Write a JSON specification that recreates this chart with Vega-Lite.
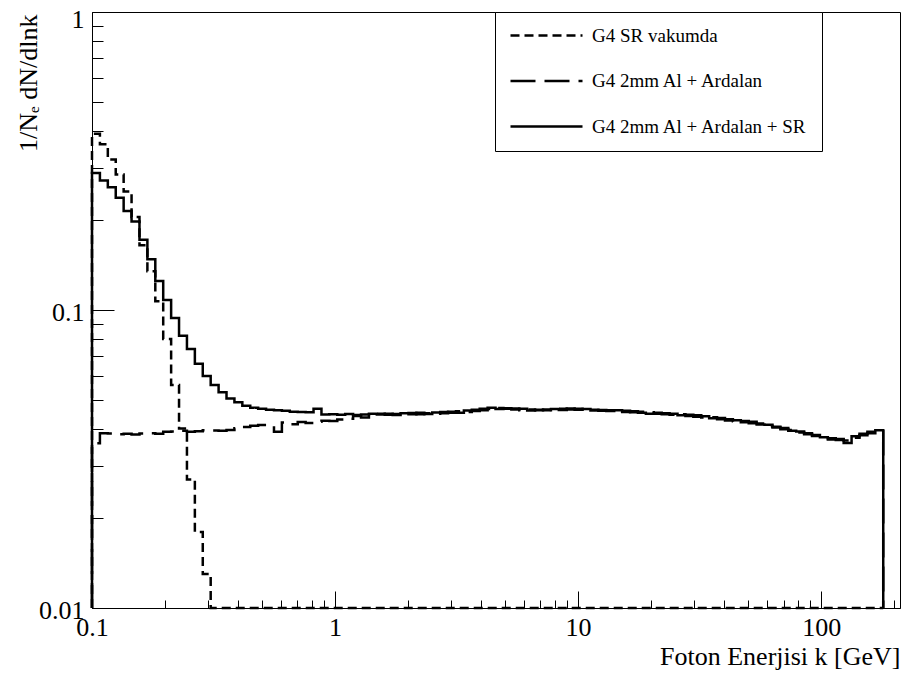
{
 "$schema": "https://vega.github.io/schema/vega-lite/v6.json",
 "width": 808,
 "height": 596,
 "autosize": {"type": "none"},
 "padding": {"left": 92, "top": 12, "right": 8, "bottom": 67},
 "background": "white",
 "config": {
  "font": "Liberation Serif",
  "view": {"stroke": "black", "strokeWidth": 1},
  "axis": {"domainColor": "black", "tickColor": "black", "labelColor": "black", "titleColor": "black", "labelFont": "Liberation Serif", "titleFont": "Liberation Serif", "labelFontSize": 26, "titleFontSize": 26, "titleFontWeight": "normal", "grid": false, "labelFlush": false, "labelOverlap": false, "labelBound": false, "tickWidth": 1, "domainWidth": 1}
 },
 "data": {"values": [
  {"o":0,"k":0.1,"V":0.01,"A":0.01,"S":0.01},
  {"o":1,"k":0.1,"V":0.39,"A":0.0357,"S":0.288},
  {"o":2,"k":0.10778,"V":0.36,"A":0.0386,"S":0.272},
  {"o":3,"k":0.11617,"V":0.32,"A":0.0385,"S":0.258},
  {"o":4,"k":0.12522,"V":0.285,"A":0.0383,"S":0.238},
  {"o":5,"k":0.13496,"V":0.25,"A":0.0384,"S":0.215},
  {"o":6,"k":0.14547,"V":0.205,"A":0.0382,"S":0.198},
  {"o":7,"k":0.15679,"V":0.165,"A":0.0385,"S":0.172},
  {"o":8,"k":0.169,"V":0.135,"A":0.0386,"S":0.148},
  {"o":9,"k":0.18215,"V":0.107,"A":0.0384,"S":0.125},
  {"o":10,"k":0.19633,"V":0.08,"A":0.039,"S":0.108},
  {"o":11,"k":0.21161,"V":0.056,"A":0.0391,"S":0.094},
  {"o":12,"k":0.22808,"V":0.04,"A":0.0393,"S":0.082},
  {"o":13,"k":0.24583,"V":0.027,"A":0.039,"S":0.074},
  {"o":14,"k":0.26497,"V":0.018,"A":0.0392,"S":0.066},
  {"o":15,"k":0.28559,"V":0.013,"A":0.0395,"S":0.06},
  {"o":16,"k":0.30782,"V":0.01,"A":0.0394,"S":0.056},
  {"o":17,"k":0.33178,"V":0.01,"A":0.0393,"S":0.053},
  {"o":18,"k":0.35761,"V":0.01,"A":0.0396,"S":0.0505},
  {"o":19,"k":0.38544,"V":0.01,"A":0.0401,"S":0.049},
  {"o":20,"k":0.41544,"V":0.01,"A":0.0405,"S":0.0477},
  {"o":21,"k":0.44778,"V":0.01,"A":0.0409,"S":0.047},
  {"o":22,"k":0.48263,"V":0.01,"A":0.0411,"S":0.0466},
  {"o":23,"k":0.52019,"V":0.01,"A":0.0408,"S":0.0463},
  {"o":24,"k":0.56068,"V":0.01,"A":0.039,"S":0.0461},
  {"o":25,"k":0.60432,"V":0.01,"A":0.0419,"S":0.0459},
  {"o":26,"k":0.65136,"V":0.01,"A":0.0414,"S":0.0456},
  {"o":27,"k":0.70206,"V":0.01,"A":0.0421,"S":0.0455},
  {"o":28,"k":0.75671,"V":0.01,"A":0.0418,"S":0.0454},
  {"o":29,"k":0.81561,"V":0.01,"A":0.0422,"S":0.0466},
  {"o":30,"k":0.8791,"V":0.01,"A":0.0425,"S":0.0446},
  {"o":31,"k":0.94752,"V":0.01,"A":0.0424,"S":0.0447},
  {"o":32,"k":1.0213,"V":0.01,"A":0.0429,"S":0.0445},
  {"o":33,"k":1.1008,"V":0.01,"A":0.0432,"S":0.0448},
  {"o":34,"k":1.1864,"V":0.01,"A":0.0441,"S":0.0444},
  {"o":35,"k":1.2788,"V":0.01,"A":0.0436,"S":0.0446},
  {"o":36,"k":1.3783,"V":0.01,"A":0.0446,"S":0.0449},
  {"o":37,"k":1.4856,"V":0.01,"A":0.0449,"S":0.0446},
  {"o":38,"k":1.6013,"V":0.01,"A":0.0445,"S":0.0449},
  {"o":39,"k":1.7259,"V":0.01,"A":0.0448,"S":0.0444},
  {"o":40,"k":1.8602,"V":0.01,"A":0.0446,"S":0.045},
  {"o":41,"k":2.005,"V":0.01,"A":0.0451,"S":0.0447},
  {"o":42,"k":2.1611,"V":0.01,"A":0.0447,"S":0.0452},
  {"o":43,"k":2.3293,"V":0.01,"A":0.045,"S":0.0448},
  {"o":44,"k":2.5106,"V":0.01,"A":0.0449,"S":0.0453},
  {"o":45,"k":2.706,"V":0.01,"A":0.0455,"S":0.045},
  {"o":46,"k":2.9167,"V":0.01,"A":0.0452,"S":0.0456},
  {"o":47,"k":3.1437,"V":0.01,"A":0.0457,"S":0.0452},
  {"o":48,"k":3.3884,"V":0.01,"A":0.0455,"S":0.046},
  {"o":49,"k":3.6522,"V":0.01,"A":0.0458,"S":0.0463},
  {"o":50,"k":3.9365,"V":0.01,"A":0.0466,"S":0.0461},
  {"o":51,"k":4.2428,"V":0.01,"A":0.0465,"S":0.047},
  {"o":52,"k":4.573,"V":0.01,"A":0.0469,"S":0.0465},
  {"o":53,"k":4.929,"V":0.01,"A":0.0466,"S":0.0468},
  {"o":54,"k":5.3126,"V":0.01,"A":0.0467,"S":0.0464},
  {"o":55,"k":5.7262,"V":0.01,"A":0.0461,"S":0.0466},
  {"o":56,"k":6.1719,"V":0.01,"A":0.0464,"S":0.046},
  {"o":57,"k":6.6523,"V":0.01,"A":0.0461,"S":0.0463},
  {"o":58,"k":7.1701,"V":0.01,"A":0.0464,"S":0.0461},
  {"o":59,"k":7.7282,"V":0.01,"A":0.0462,"S":0.0465},
  {"o":60,"k":8.3298,"V":0.01,"A":0.0466,"S":0.0462},
  {"o":61,"k":8.978,"V":0.01,"A":0.0464,"S":0.0467},
  {"o":62,"k":9.6768,"V":0.01,"A":0.0466,"S":0.0463},
  {"o":63,"k":10.43,"V":0.01,"A":0.0462,"S":0.0465},
  {"o":64,"k":11.242,"V":0.01,"A":0.0463,"S":0.046},
  {"o":65,"k":12.117,"V":0.01,"A":0.0459,"S":0.0462},
  {"o":66,"k":13.06,"V":0.01,"A":0.0461,"S":0.0458},
  {"o":67,"k":14.077,"V":0.01,"A":0.0457,"S":0.0461},
  {"o":68,"k":15.173,"V":0.01,"A":0.0459,"S":0.0455},
  {"o":69,"k":16.353,"V":0.01,"A":0.0454,"S":0.0457},
  {"o":70,"k":17.626,"V":0.01,"A":0.0456,"S":0.0452},
  {"o":71,"k":18.998,"V":0.01,"A":0.0454,"S":0.0449},
  {"o":72,"k":20.477,"V":0.01,"A":0.0449,"S":0.0452},
  {"o":73,"k":22.071,"V":0.01,"A":0.045,"S":0.0447},
  {"o":74,"k":23.789,"V":0.01,"A":0.0445,"S":0.0449},
  {"o":75,"k":25.64,"V":0.01,"A":0.0447,"S":0.0443},
  {"o":76,"k":27.636,"V":0.01,"A":0.0441,"S":0.0445},
  {"o":77,"k":29.788,"V":0.01,"A":0.0443,"S":0.0438},
  {"o":78,"k":32.106,"V":0.01,"A":0.0436,"S":0.044},
  {"o":79,"k":34.605,"V":0.01,"A":0.0437,"S":0.0433},
  {"o":80,"k":37.299,"V":0.01,"A":0.043,"S":0.0434},
  {"o":81,"k":40.201,"V":0.01,"A":0.043,"S":0.0426},
  {"o":82,"k":43.331,"V":0.01,"A":0.0423,"S":0.0427},
  {"o":83,"k":46.703,"V":0.01,"A":0.0424,"S":0.042},
  {"o":84,"k":50.339,"V":0.01,"A":0.0417,"S":0.0422},
  {"o":85,"k":54.257,"V":0.01,"A":0.0416,"S":0.0413},
  {"o":86,"k":58.48,"V":0.01,"A":0.0408,"S":0.0412},
  {"o":87,"k":63.032,"V":0.01,"A":0.0406,"S":0.0403},
  {"o":88,"k":67.94,"V":0.01,"A":0.0398,"S":0.0402},
  {"o":89,"k":73.227,"V":0.01,"A":0.0396,"S":0.0393},
  {"o":90,"k":78.927,"V":0.01,"A":0.0388,"S":0.0391},
  {"o":91,"k":85.069,"V":0.01,"A":0.0386,"S":0.0383},
  {"o":92,"k":91.691,"V":0.01,"A":0.0378,"S":0.0381},
  {"o":93,"k":98.828,"V":0.01,"A":0.0377,"S":0.0374},
  {"o":94,"k":106.52,"V":0.01,"A":0.0368,"S":0.0371},
  {"o":95,"k":114.81,"V":0.01,"A":0.0369,"S":0.0366},
  {"o":96,"k":123.75,"V":0.01,"A":0.0365,"S":0.0358},
  {"o":97,"k":133.38,"V":0.01,"A":0.0373,"S":0.0377},
  {"o":98,"k":143.76,"V":0.01,"A":0.0384,"S":0.038},
  {"o":99,"k":154.95,"V":0.01,"A":0.0386,"S":0.039},
  {"o":100,"k":167.01,"V":0.01,"A":0.0392,"S":0.0395},
  {"o":101,"k":180,"V":0.01,"A":0.01,"S":0.01}
 ]},
 "transform": [{"fold": ["V", "A", "S"], "as": ["s", "v"]}],
 "mark": {"type": "line", "interpolate": "step-after", "strokeWidth": 2.5, "color": "black", "strokeCap": "butt"},
 "encoding": {
  "x": {
   "field": "k", "type": "quantitative",
   "scale": {"type": "log", "domain": [0.1, 211], "nice": false},
   "axis": {
    "title": "Foton Enerjisi k [GeV]",
    "values": [0.1,0.2,0.3,0.4,0.5,0.6,0.7,0.8,0.9,1,2,3,4,5,6,7,8,9,10,20,30,40,50,60,70,80,90,100,200],
    "format": "~g",
    "labelExpr": "datum.value == 0.1 || datum.value == 1 || datum.value == 10 || datum.value == 100 ? datum.label : ''",
    "tickSize": {"condition": {"test": "datum.value == 0.1 || datum.value == 1 || datum.value == 10 || datum.value == 100", "value": -17}, "value": -8},
    "labelPadding": 23,
    "titleAlign": "right",
    "titleAnchor": "end",
    "titleX": 808,
    "titleY": 56,
    "titleBaseline": "alphabetic"
   }
  },
  "y": {
   "field": "v", "type": "quantitative",
   "scale": {"type": "log", "domain": [0.01, 1], "nice": false},
   "axis": {
    "title": "1/Nₑ dN/dlnk",
    "values": [0.01,0.02,0.03,0.04,0.05,0.06,0.07,0.08,0.09,0.1,0.2,0.3,0.4,0.5,0.6,0.7,0.8,0.9,1],
    "format": "~g",
    "labelExpr": "datum.value == 0.01 || datum.value == 0.1 || datum.value == 1 ? datum.label : ''",
    "tickSize": {"condition": {"test": "datum.value == 0.01 || datum.value == 0.1 || datum.value == 1", "value": -22}, "value": -11},
    "labelOffset": {"condition": {"test": "datum.value == 1", "value": 7}, "value": 2},
    "labelPadding": 30,
    "titleAngle": 270,
    "titleAlign": "right",
    "titleAnchor": "end",
    "titleX": -56,
    "titleY": 2,
    "titleBaseline": "alphabetic"
   }
  },
  "order": {"field": "o", "type": "quantitative"},
  "strokeDash": {
   "field": "s", "type": "nominal",
   "scale": {"domain": ["V", "A", "S"], "range": [[9, 5], [25, 9], [1, 0]]},
   "legend": {
    "orient": "none",
    "legendX": 403,
    "legendY": 0,
    "title": null,
    "strokeColor": "black",
    "fillColor": "white",
    "padding": 14,
    "cornerRadius": 0,
    "symbolType": "M-1,0H8",
    "symbolSize": 256,
    "symbolStrokeWidth": 2.5,
    "symbolStrokeColor": "black",
    "symbolFillColor": "transparent",
    "labelFont": "Liberation Serif",
    "labelFontSize": 19,
    "labelColor": "black",
    "labelLimit": 500,
    "labelOffset": 64,
    "rowPadding": 25.5,
    "labelExpr": "datum.value == 'V' ? 'G4 SR vakumda' : datum.value == 'A' ? 'G4 2mm Al + Ardalan' : 'G4 2mm Al + Ardalan + SR'"
   }
  }
 }
}
